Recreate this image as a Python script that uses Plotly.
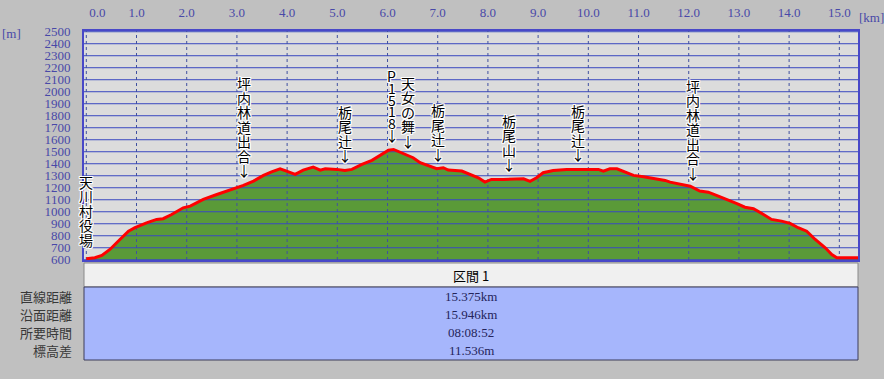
import numpy as np
import plotly.graph_objects as go

# ---------------- data ----------------
DIST_KM = [0.00, 0.17, 0.31, 0.47, 0.67, 0.84, 0.97, 1.20, 1.40, 1.53, 1.70, 1.93, 2.07,
           2.33, 2.60, 2.80, 3.00, 3.13, 3.33, 3.53, 3.69, 3.86, 3.99, 4.16, 4.32, 4.52,
           4.66, 4.76, 4.99, 5.15, 5.29, 5.49, 5.69, 5.88, 6.02, 6.12, 6.25, 6.38, 6.51,
           6.65, 6.81, 6.98, 7.11, 7.21, 7.48, 7.64, 7.81, 7.94, 8.07, 8.31, 8.51, 8.71,
           8.84, 8.97, 9.10, 9.30, 9.57, 9.83, 10.03, 10.20, 10.30, 10.43, 10.57, 10.77,
           10.90, 11.10, 11.36, 11.53, 11.63, 11.79, 12.03, 12.22, 12.39, 12.59, 12.82,
           12.96, 13.12, 13.29, 13.49, 13.65, 13.85, 14.02, 14.18, 14.35, 14.52, 14.72,
           14.85, 14.95, 15.11, 15.375]
ELEV_M = [608, 617, 636, 686, 769, 838, 867, 908, 936, 942, 977, 1033, 1047,
          1103, 1144, 1172, 1205, 1219, 1255, 1303, 1333, 1358, 1338, 1311, 1347, 1372,
          1347, 1358, 1353, 1344, 1353, 1394, 1428, 1478, 1513, 1519, 1497, 1469, 1450,
          1408, 1386, 1358, 1367, 1347, 1339, 1311, 1283, 1247, 1269, 1269, 1275, 1275,
          1253, 1283, 1325, 1344, 1353, 1353, 1358, 1353, 1339, 1358, 1358, 1325,
          1303, 1292, 1275, 1261, 1247, 1233, 1213, 1172, 1163, 1130, 1094,
          1067, 1038, 1025, 977, 936, 922, 903, 867, 838, 769, 700,
          644, 617, 617, 617]

Y_TICKS = [600, 700, 800, 900, 1000, 1100, 1200, 1300, 1400, 1500, 1600, 1700,
           1800, 1900, 2000, 2100, 2200, 2300, 2400, 2500]
X_TICKS = [0, 1, 2, 3, 4, 5, 6, 7, 8, 9, 10, 11, 12, 13, 14, 15]
X_TICK_LABELS = ["0.0", "1.0", "2.0", "3.0", "4.0", "5.0", "6.0", "7.0", "8.0",
                 "9.0", "10.0", "11.0", "12.0", "13.0", "14.0", "15.0"]

WAYPOINT_NAMES = ["天川村役場", "坪内林道出合", "栃尾辻", "P1518", "天女の舞",
                  "栃尾辻", "栃尾山", "栃尾辻", "坪内林道出合", "天川村役場"]
WAYPOINT_KM = [0.0, 3.14, 5.15, 6.08, 6.41, 7.01, 8.41, 9.80, 12.09, 15.375]
WAYPOINT_ARROW = [False, True, True, True, True, True, True, True, True, False]

SECTION_NAME = "区間 1"
SUMMARY_LABELS = ["直線距離", "沿面距離", "所要時間", "標高差"]
SUMMARY_VALUES = ["15.375km", "15.946km", "08:08:52", "11.536m"]

# ---------------- layout constants ----------------
W, H = 884, 379
PL, PR, PT, PB = 84, 858, 31, 260          # plot area pixel edges
X_RANGE = [-0.046, 15.372]
Y_RANGE = [598, 2506]
KY = (PB - PT) / (Y_RANGE[1] - Y_RANGE[0])

OUTER_BG = "#c0c0c0"
PLOT_BG = "#dcdcdc"
GRID_BLUE = "#3a48c0"
VGRID = "#4050a0"
AXIS_BLUE = "#4848c8"
TICK_COLOR = "#4848a8"
GREEN = "#5a9a38"
RED = "#ff0000"
SERIF = "Liberation Serif"
CJK = "Noto Sans CJK JP"
ZERO_LABEL_SHIFT_KM = 0.22


def paper_x(px):
    return (px - PL) / (PR - PL)


def paper_y(py):
    return (PB - py) / (PB - PT)


def elev_to_py(e):
    return PB - (e - Y_RANGE[0]) * KY


fig = go.Figure()

# green terrain fill
fig.add_trace(go.Scatter(x=DIST_KM, y=ELEV_M, mode="lines", fill="tozeroy",
                         fillcolor=GREEN, line=dict(width=0, color=GREEN),
                         hoverinfo="skip", showlegend=False))

# horizontal grid (drawn over fill)
hx, hy = [], []
for v in Y_TICKS:
    hx += [X_RANGE[0], X_RANGE[1], None]
    hy += [v, v, None]
fig.add_trace(go.Scatter(x=hx, y=hy, mode="lines", line=dict(color=GRID_BLUE, width=1),
                         hoverinfo="skip", showlegend=False))
# vertical dotted grid
vx, vy = [], []
for v in X_TICKS:
    vx += [v, v, None]
    vy += [Y_RANGE[0], Y_RANGE[1], None]
fig.add_trace(go.Scatter(x=vx, y=vy, mode="lines",
                         line=dict(color=VGRID, width=1, dash="dot"),
                         hoverinfo="skip", showlegend=False))

# red profile line
fig.add_trace(go.Scatter(x=DIST_KM, y=ELEV_M, mode="lines",
                         line=dict(color=RED, width=3),
                         hoverinfo="skip", showlegend=False))

annotations = []
outline = ("1px 0 0 #fff, -1px 0 0 #fff, 0 1px 0 #fff, 0 -1px 0 #fff, "
           "1px 1px 0 #fff, -1px -1px 0 #fff, 1px -1px 0 #fff, -1px 1px 0 #fff")

# waypoint labels, vertical text
FULL_STEP, HALF_STEP = 14.5, 11.7
for name, km, arrow in zip(WAYPOINT_NAMES, WAYPOINT_KM, WAYPOINT_ARROW):
    e = float(np.interp(km, DIST_KM, ELEV_M))
    base = elev_to_py(e)
    chars = list(name) + (["↓"] if arrow else [])
    py = base - (15 if arrow else 19)
    positions = [py]
    for j in range(len(chars) - 2, -1, -1):
        step = HALF_STEP if chars[j].isascii() else FULL_STEP
        py -= step
        positions.insert(0, py)
    for ch, p in zip(chars, positions):
        annotations.append(dict(x=km, y=paper_y(p), xref="x", yref="paper",
                                text=ch, showarrow=False, xanchor="center",
                                yanchor="middle",
                                font=dict(family=CJK, size=14, color="#000000",
                                          shadow=outline)))

# units
annotations.append(dict(x=paper_x(11), y=paper_y(33), xref="paper", yref="paper",
                        text="[m]", showarrow=False, xanchor="center", yanchor="middle",
                        font=dict(family=SERIF, size=13, color=TICK_COLOR)))
annotations.append(dict(x=paper_x(871), y=paper_y(17), xref="paper", yref="paper",
                        text="[km]", showarrow=False, xanchor="center", yanchor="middle",
                        font=dict(family=SERIF, size=13, color=TICK_COLOR)))

# summary table
shapes = []
HDR_T, HDR_B, TBL_B = 263, 287, 360
shapes.append(dict(type="rect", xref="paper", yref="paper",
                   x0=paper_x(PL), x1=paper_x(PR), y0=paper_y(HDR_B), y1=paper_y(HDR_T),
                   fillcolor="#f0f0f0", line=dict(color="#8a8a8a", width=1), layer="above"))
shapes.append(dict(type="rect", xref="paper", yref="paper",
                   x0=paper_x(PL), x1=paper_x(PR), y0=paper_y(TBL_B), y1=paper_y(HDR_B),
                   fillcolor="#a6b6fc", line=dict(color="#3c3c5a", width=1), layer="above"))
annotations.append(dict(x=paper_x((PL + PR) / 2), y=paper_y((HDR_T + HDR_B) / 2),
                        xref="paper", yref="paper", text=SECTION_NAME, showarrow=False,
                        xanchor="center", yanchor="middle",
                        font=dict(family=CJK, size=13, color="#000000")))
row_h = (TBL_B - HDR_B) / len(SUMMARY_LABELS)
for i, (lab, val) in enumerate(zip(SUMMARY_LABELS, SUMMARY_VALUES)):
    cy = HDR_B + row_h * (i + 0.5)
    annotations.append(dict(x=paper_x(74), y=paper_y(cy), xref="paper", yref="paper",
                            text=lab, showarrow=False, xanchor="right", yanchor="middle",
                            font=dict(family=CJK, size=13, color="#383838")))
    annotations.append(dict(x=paper_x((PL + PR) / 2), y=paper_y(cy), xref="paper",
                            yref="paper", text=val, showarrow=False, xanchor="center",
                            yanchor="middle",
                            font=dict(family=SERIF, size=13, color="#24245a")))

x_tickvals = [X_TICKS[0] + ZERO_LABEL_SHIFT_KM] + X_TICKS[1:]

fig.update_layout(
    width=W, height=H,
    margin=dict(l=PL, r=W - PR, t=PT, b=H - PB, pad=0, autoexpand=False),
    paper_bgcolor=OUTER_BG, plot_bgcolor=PLOT_BG,
    showlegend=False,
    xaxis=dict(range=X_RANGE, side="top", tickvals=x_tickvals, ticktext=X_TICK_LABELS,
               showgrid=False, zeroline=False, ticks="", ticklabelstandoff=7,
               automargin=False,
               tickfont=dict(family=SERIF, size=13, color=TICK_COLOR),
               showline=True, mirror=True, linecolor=AXIS_BLUE, linewidth=2),
    yaxis=dict(range=Y_RANGE, tickvals=Y_TICKS, ticktext=[str(v) for v in Y_TICKS],
               showgrid=False, zeroline=False, ticks="", ticklabelstandoff=9,
               automargin=False,
               tickfont=dict(family=SERIF, size=13, color=TICK_COLOR),
               showline=True, mirror=True, linecolor=AXIS_BLUE, linewidth=2),
    annotations=annotations,
    shapes=shapes,
)

fig.write_html("out.html",
               config={"displayModeBar": False, "staticPlot": True},
               post_script="document.body.style.margin='0';document.body.style.background='%s';" % OUTER_BG)
